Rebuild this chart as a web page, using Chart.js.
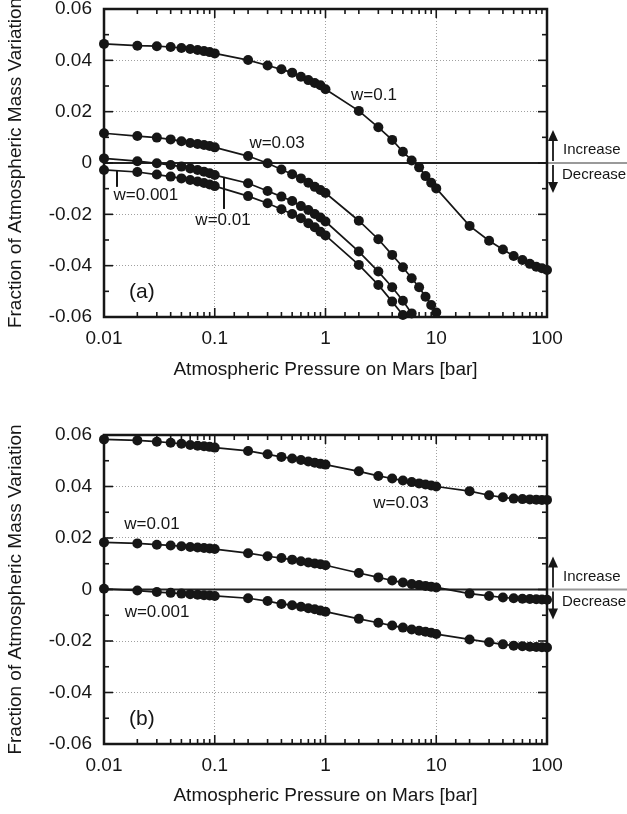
<!DOCTYPE html>
<html>
<head>
<meta charset="utf-8">
<script src="https://cdn.jsdelivr.net/npm/chart.js@4.4.1/dist/chart.umd.min.js"></script>
<style>
  html, body { margin: 0; padding: 0; background: #fff; }
  #wrap { position: relative; width: 627px; height: 814px; }
  canvas { position: absolute; left: 0; }
  #chartA { top: 0; }
  #chartB { top: 400px; }
</style>
</head>
<body>
<div id="wrap">
  <canvas id="chartA" width="627" height="400"></canvas>
  <canvas id="chartB" width="627" height="414"></canvas>
</div>
<script>
'use strict';

// ---- data ----
const pressure = [0.01, 0.02, 0.03, 0.04, 0.05, 0.06, 0.07, 0.08, 0.09,
  0.1, 0.2, 0.3, 0.4, 0.5, 0.6, 0.7, 0.8, 0.9,
  1, 2, 3, 4, 5, 6, 7, 8, 9,
  10, 20, 30, 40, 50, 60, 70, 80, 90, 100];
const xMajor = [0.01, 0.1, 1, 10, 100];

// panel (a)
const aW01 = [0.0464, 0.0457, 0.0455, 0.0452, 0.0448, 0.0444, 0.0440, 0.0436, 0.0432,
  0.0427, 0.0401, 0.0380, 0.0365, 0.0352, 0.0336, 0.0323, 0.0312, 0.0303,
  0.0287, 0.0203, 0.0139, 0.0090, 0.0044, 0.0010, -0.0017, -0.0051, -0.0077,
  -0.0099, -0.0245, -0.0303, -0.0337, -0.0362, -0.0378, -0.0393, -0.0404, -0.0410, -0.0417];
const aW003 = [0.0116, 0.0105, 0.0099, 0.0092, 0.0085, 0.0078, 0.0074, 0.0070, 0.0066,
  0.0061, 0.0027, -0.0001, -0.0025, -0.0044, -0.0060, -0.0077, -0.0093, -0.0105,
  -0.0117, -0.0225, -0.0297, -0.0358, -0.0406, -0.0449, -0.0484, -0.0521, -0.0553,
  -0.0582];
const aW001 = [0.0018, 0.0007, -0.0001, -0.0008, -0.0014, -0.0021, -0.0027, -0.0034, -0.0040,
  -0.0047, -0.0079, -0.0109, -0.0131, -0.0148, -0.0168, -0.0183, -0.0199, -0.0212,
  -0.0228, -0.0345, -0.0423, -0.0484, -0.0537, -0.0586];
const aW0001 = [-0.0027, -0.0035, -0.0045, -0.0053, -0.0060, -0.0066, -0.0072, -0.0078, -0.0084,
  -0.0090, -0.0129, -0.0157, -0.0180, -0.0199, -0.0215, -0.0235, -0.0250, -0.0268,
  -0.0282, -0.0397, -0.0475, -0.0540, -0.0592];

// panel (b)
const bW003 = [0.0583, 0.0579, 0.0574, 0.0570, 0.0566, 0.0561, 0.0558, 0.0556, 0.0554,
  0.0551, 0.0538, 0.0525, 0.0515, 0.0509, 0.0503, 0.0497, 0.0492, 0.0488,
  0.0485, 0.0459, 0.0441, 0.0431, 0.0423, 0.0417, 0.0412, 0.0408, 0.0404,
  0.0400, 0.0382, 0.0366, 0.0358, 0.0353, 0.0351, 0.0350, 0.0349, 0.0348, 0.0348];
const bW001 = [0.0183, 0.0179, 0.0174, 0.0171, 0.0168, 0.0165, 0.0163, 0.0161, 0.0159,
  0.0157, 0.0141, 0.0129, 0.0122, 0.0116, 0.0110, 0.0105, 0.0101, 0.0098,
  0.0094, 0.0064, 0.0047, 0.0035, 0.0027, 0.0021, 0.0017, 0.0014, 0.0011,
  0.0008, -0.0016, -0.0025, -0.0031, -0.0034, -0.0036, -0.0037, -0.0038, -0.0039, -0.0040];
const bW0001 = [0.0003, -0.0004, -0.0010, -0.0013, -0.0016, -0.0018, -0.0020, -0.0022, -0.0023,
  -0.0025, -0.0034, -0.0045, -0.0056, -0.0061, -0.0067, -0.0073, -0.0077, -0.0082,
  -0.0086, -0.0114, -0.0129, -0.0140, -0.0148, -0.0155, -0.0160, -0.0164, -0.0168,
  -0.0173, -0.0194, -0.0205, -0.0213, -0.0218, -0.0220, -0.0222, -0.0223, -0.0224, -0.0225];

// curve labels, in data coordinates
const notesA = [
  { text: 'w=0.1', x: 2.74, y: 0.0265 },
  { text: 'w=0.03', x: 0.365, y: 0.0078 },
  { text: 'w=0.001', x: 0.0239, y: -0.0125, lead: [0.0131, -0.0031, -0.0093] },
  { text: 'w=0.01', x: 0.1187, y: -0.0222, lead: [0.1212, -0.0058, -0.0179] },
];
const notesB = [
  { text: 'w=0.03', x: 4.8, y: 0.0335 },
  { text: 'w=0.01', x: 0.0271, y: 0.0253 },
  { text: 'w=0.001', x: 0.0301, y: -0.009 },
];

const FONT = '"Liberation Sans", Arial, Helvetica, sans-serif';
const INK = '#161616';
const GRID = '#a0a0a0';

const isPow10 = v => Math.abs(Math.log10(v) - Math.round(Math.log10(v))) < 1e-6;
const pts = vals => vals.map((v, i) => ({ x: pressure[i], y: v }));

function series(vals) {
  return {
    data: pts(vals),
    borderColor: INK,
    backgroundColor: INK,
    borderWidth: 1.7,
    pointRadius: 5,
    pointBorderWidth: 0,
    pointHoverRadius: 5,
    tension: 0,
    clip: false
  };
}

function line(ctx, x1, y1, x2, y2) {
  ctx.beginPath(); ctx.moveTo(x1, y1); ctx.lineTo(x2, y2); ctx.stroke();
}

function head(ctx, x, tipY, dir) {
  ctx.beginPath();
  ctx.moveTo(x, tipY);
  ctx.lineTo(x - 5, tipY - dir * 11);
  ctx.lineTo(x + 5, tipY - dir * 11);
  ctx.closePath();
  ctx.fill();
}

const decor = {
  id: 'decor',
  beforeDatasetsDraw(chart) {
    const { ctx, chartArea: a, scales: { x, y } } = chart;
    const y0 = y.getPixelForValue(0);
    ctx.save();
    // zero line, running past the frame in grey
    ctx.lineWidth = 2;
    ctx.strokeStyle = '#222';
    line(ctx, a.left, y0, a.right, y0);
    ctx.strokeStyle = '#9a9a9a';
    line(ctx, a.right, y0, chart.width, y0);

    // inward ticks on all four sides
    ctx.strokeStyle = INK;
    ctx.lineWidth = 1.6;
    x.ticks.forEach(t => {
      const px = x.getPixelForValue(t.value);
      const len = isPow10(t.value) ? 9 : 5;
      line(ctx, px, a.bottom, px, a.bottom - len);
      line(ctx, px, a.top, px, a.top + len);
    });
    for (let k = -6; k <= 6; k++) {
      const py = y.getPixelForValue(k / 100);
      const len = k % 2 === 0 ? 9 : 5;
      line(ctx, a.left, py, a.left + len, py);
      line(ctx, a.right, py, a.right - len, py);
    }
    // frame
    ctx.lineWidth = 2.5;
    ctx.strokeRect(a.left, a.top, a.width, a.height);
    ctx.restore();
  },
  afterDatasetsDraw(chart, args, opts) {
    const { ctx, chartArea: a, scales: { x, y } } = chart;
    const y0 = y.getPixelForValue(0);
    ctx.save();
    ctx.fillStyle = INK;
    ctx.strokeStyle = INK;

    // increase / decrease arrows
    const ax = a.right + 6;
    ctx.lineWidth = 1.8;
    line(ctx, ax, y0 - 2, ax, y0 - 24);
    head(ctx, ax, y0 - 33, -1);
    line(ctx, ax, y0 + 2, ax, y0 + 21);
    head(ctx, ax, y0 + 30, 1);
    ctx.font = '15px ' + FONT;
    ctx.textAlign = 'left';
    ctx.textBaseline = 'middle';
    ctx.fillText('Increase', a.right + 16, y0 - 13);
    ctx.fillText('Decrease', a.right + 15, y0 + 12);

    // curve labels
    ctx.font = '17px ' + FONT;
    ctx.textAlign = 'center';
    (opts.notes || []).forEach(n => {
      ctx.fillText(n.text, x.getPixelForValue(n.x), y.getPixelForValue(n.y));
      if (n.lead) {
        const lx = x.getPixelForValue(n.lead[0]);
        ctx.lineWidth = 2;
        line(ctx, lx, y.getPixelForValue(n.lead[1]), lx, y.getPixelForValue(n.lead[2]));
      }
    });

    // panel letter
    ctx.font = '21px ' + FONT;
    ctx.fillText(opts.panel, x.getPixelForValue(0.022), y.getPixelForValue(-0.0503));
    ctx.restore();
  }
};

function makeChart(id, sets, o) {
  const tickFont = { family: FONT, size: 19 };
  return new Chart(document.getElementById(id), {
    type: 'line',
    data: { datasets: sets.map(series) },
    options: {
      responsive: false,
      animation: false,
      events: [],
      layout: { padding: { top: o.top, right: 80, left: 0, bottom: 0 } },
      plugins: { legend: { display: false }, tooltip: { enabled: false },
        decor: { notes: o.notes, panel: o.panel } },
      scales: {
        x: {
          type: 'logarithmic',
          min: 0.01,
          max: 100,
          afterFit: s => { s.height = o.xh; s.paddingLeft = 0; s.paddingRight = 0; },
          grid: {
            drawTicks: false,
            lineWidth: 1,
            color: c => (c.tick && isPow10(c.tick.value) && c.tick.value > 0.011 && c.tick.value < 99) ? GRID : 'rgba(0,0,0,0)'
          },
          border: { display: false, dash: [1, 2] },
          ticks: {
            autoSkip: false,
            maxRotation: 0,
            padding: 10,
            color: INK,
            font: tickFont,
            callback: v => xMajor.some(m => Math.abs(m - v) / m < 1e-6) ? String(+v.toPrecision(3)) : ''
          },
          title: {
            display: true,
            text: 'Atmospheric Pressure on Mars [bar]',
            color: INK,
            font: { family: FONT, size: 19 },
            padding: { top: 0, bottom: o.xt }
          }
        },
        y: {
          type: 'linear',
          min: -0.06,
          max: 0.06,
          afterFit: s => { s.width = 104; s.paddingTop = 0; s.paddingBottom = 0; },
          grid: {
            drawTicks: false,
            lineWidth: 1,
            color: c => {
              const v = c.tick ? Math.abs(c.tick.value) : 0;
              return (v < 1e-9 || Math.abs(v - 0.06) < 1e-9) ? 'rgba(0,0,0,0)' : GRID;
            }
          },
          border: { display: false, dash: [1, 2] },
          ticks: {
            stepSize: 0.02,
            padding: 12,
            color: INK,
            font: tickFont,
            callback: v => Math.abs(v) < 1e-9 ? '0' : v.toFixed(2)
          },
          title: {
            display: true,
            text: 'Fraction of Atmospheric Mass Variation',
            color: INK,
            font: { family: FONT, size: 19 },
            padding: { top: 4, bottom: 0 }
          }
        }
      }
    },
    plugins: [decor]
  });
}

makeChart('chartA', [aW01, aW003, aW001, aW0001], { top: 9, xh: 83, xt: 18.6, notes: notesA, panel: '(a)' });
makeChart('chartB', [bW003, bW001, bW0001], { top: 35, xh: 70, xt: 6.6, notes: notesB, panel: '(b)' });
</script>
</body>
</html>
